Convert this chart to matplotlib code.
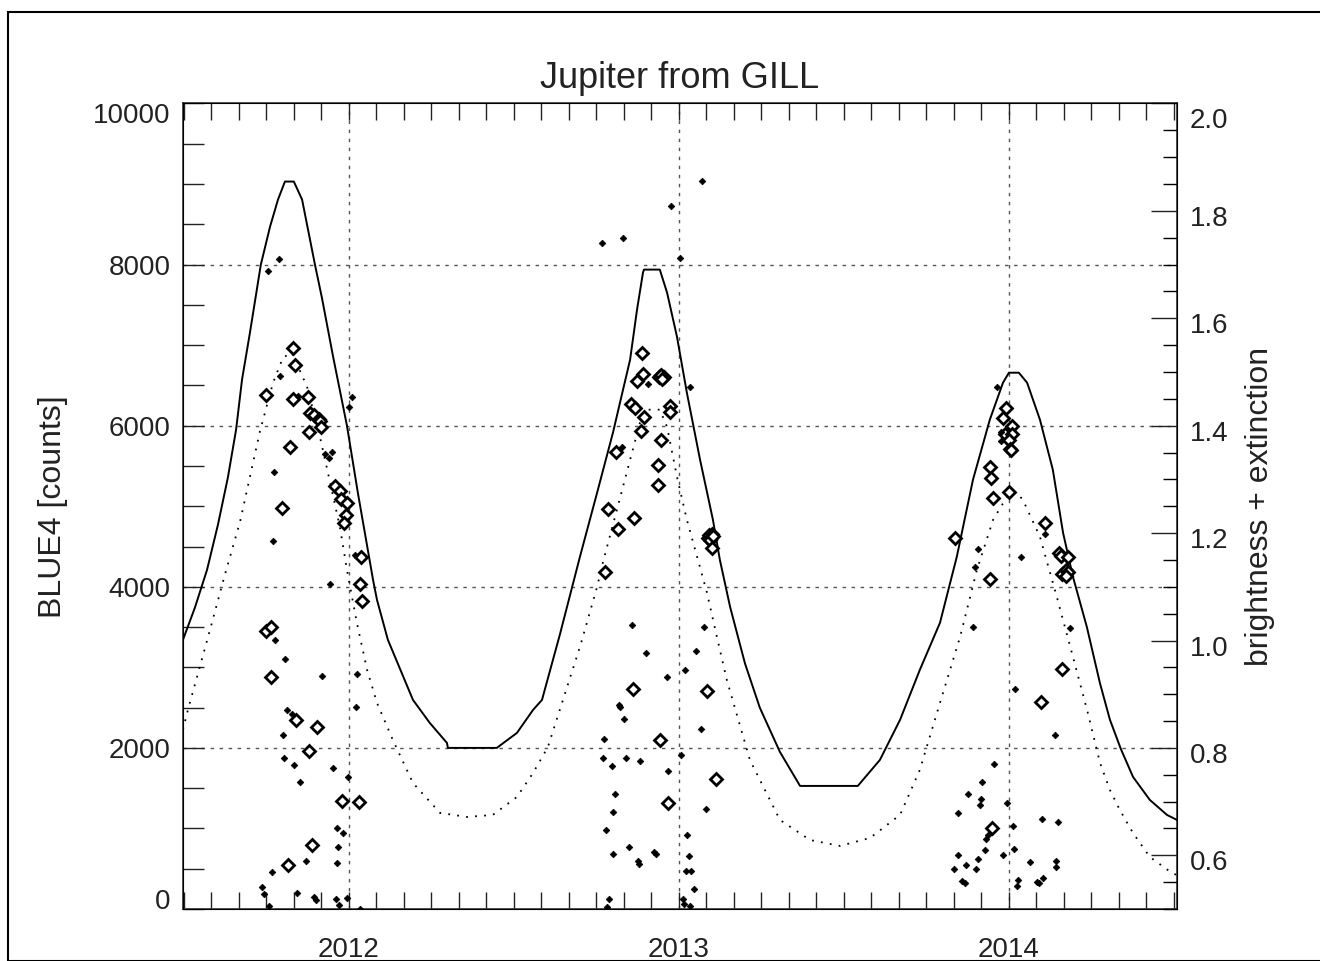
import numpy as np
import matplotlib
matplotlib.use('Agg')
import matplotlib.pyplot as plt
from matplotlib.ticker import MultipleLocator, FixedLocator, FormatStrFormatter
from matplotlib.patches import Rectangle
from matplotlib.transforms import ScaledTranslation

plt.rcParams['font.family'] = ['Liberation Sans', 'DejaVu Sans']

# Model curves (year, counts)
model_year = [2011.497, 2011.533, 2011.570, 2011.603, 2011.633, 2011.658, 2011.676,
              2011.700, 2011.733, 2011.761, 2011.785, 2011.806, 2011.833, 2011.858,
              2011.897, 2011.918, 2011.952, 2011.994, 2012.027, 2012.073, 2012.085,
              2012.118, 2012.194, 2012.245, 2012.297, 2012.300, 2012.448, 2012.509,
              2012.558, 2012.585, 2012.639, 2012.700, 2012.752, 2012.800, 2012.852,
              2012.873, 2012.891, 2012.894, 2012.942, 2012.964, 2012.994, 2013.024,
              2013.064, 2013.103, 2013.124, 2013.155, 2013.200, 2013.245, 2013.306,
              2013.367, 2013.542, 2013.609, 2013.670, 2013.730, 2013.791, 2013.842,
              2013.891, 2013.942, 2013.982, 2014.000, 2014.030, 2014.055, 2014.094,
              2014.133, 2014.164, 2014.194, 2014.236, 2014.276, 2014.306, 2014.339,
              2014.376, 2014.427, 2014.479, 2014.509]
model_counts = [3342, 3739, 4211, 4770, 5354, 5950, 6571,
                7155, 8000, 8472, 8807, 9031, 9031, 8807,
                8000, 7590, 6857, 6000, 5168, 4087, 3838,
                3342, 2596, 2310, 2062, 2000, 2000, 2186,
                2472, 2596, 3404, 4373, 5168, 5913, 6820,
                7441, 7900, 7938, 7938, 7652, 7105, 6410,
                5577, 4832, 4335, 3751, 3050, 2500, 1950,
                1528, 1528, 1851, 2348, 2969, 3553, 4373,
                5329, 6074, 6534, 6658, 6658, 6534, 6074,
                5453, 4671, 4124, 3503, 2800, 2350, 1988,
                1640, 1354, 1168, 1106]

ext_year = [2011.497, 2011.512, 2011.579, 2011.624, 2011.670, 2011.730, 2011.770,
            2011.800, 2011.827, 2011.873, 2011.912, 2011.933, 2011.973, 2011.994,
            2012.024, 2012.055, 2012.085, 2012.133, 2012.194, 2012.276, 2012.358,
            2012.436, 2012.509, 2012.558, 2012.603, 2012.700, 2012.721, 2012.752,
            2012.770, 2012.812, 2012.852, 2012.882, 2012.903, 2012.942, 2012.964,
            2012.994, 2013.024, 2013.055, 2013.085, 2013.115, 2013.145, 2013.215,
            2013.306, 2013.397, 2013.488, 2013.579, 2013.670, 2013.730, 2013.791,
            2013.852, 2013.903, 2013.952, 2013.994, 2014.021, 2014.042, 2014.094,
            2014.145, 2014.194, 2014.239, 2014.276, 2014.306, 2014.336, 2014.376,
            2014.427, 2014.494, 2014.509]
ext_counts = [2224, 2472, 3466, 4149, 4807, 5925, 6534,
              6845, 6907, 6484, 5863, 5478, 4733, 4211,
              3553, 2969, 2559, 2099, 1565, 1193, 1143,
              1168, 1391, 1689, 2012, 3255, 3553, 4000,
              4310, 4956, 5577, 6037, 6199, 6199, 5987,
              5366, 4832, 4373, 3925, 3379, 2845, 1851,
              1106, 857, 783, 882, 1168, 1727, 2559,
              3379, 4211, 4832, 5118, 5180, 5081, 4621,
              3876, 3130, 2435, 1814, 1478, 1230, 944,
              646, 447, 422]

# Observations: open diamonds
diam_year = [2011.831, 2011.838, 2011.750, 2011.830, 2011.876, 2011.882, 2011.894,
             2011.908, 2011.912, 2011.916, 2011.878, 2011.822, 2011.797, 2011.957,
             2011.973, 2011.976, 2011.993, 2011.990, 2011.986, 2012.037, 2012.032,
             2012.041, 2011.748, 2011.763, 2011.765, 2011.840, 2011.902, 2011.880,
             2011.979, 2012.029, 2011.887, 2011.815,
             2012.888, 2012.891, 2012.873, 2012.940, 2012.944, 2012.948, 2012.952,
             2012.955, 2012.946, 2012.950, 2012.855, 2012.868, 2012.972, 2012.974,
             2012.894, 2012.884, 2012.946, 2012.809, 2012.938, 2012.936, 2012.786,
             2012.863, 2012.814, 2013.088, 2013.092, 2013.096, 2013.100, 2013.094,
             2013.104, 2013.099, 2012.776, 2012.861, 2013.085, 2012.943, 2013.113,
             2012.968,
             2013.990, 2013.983, 2014.009, 2013.989, 2014.008, 2013.999, 2014.002,
             2014.006, 2013.944, 2013.946, 2013.952, 2013.999, 2014.108, 2013.837,
             2014.152, 2014.157, 2014.180, 2014.160, 2014.173, 2014.178, 2014.172,
             2013.942, 2014.160, 2014.096, 2013.950]
diam_counts = [6965, 6753, 6376, 6327, 6356, 6158, 6128,
               6083, 6053, 5978, 5917, 5730, 4973, 5255,
               5189, 5093, 5043, 4894, 4786, 4368, 4037,
               3826, 3453, 3503, 2878, 2344, 2256, 1963,
               1338, 1325, 799, 547,
               6902, 6642, 6550, 6600, 6620, 6590, 6610,
               6600, 6630, 6575, 6269, 6222, 6248, 6174,
               6103, 5929, 5826, 5677, 5511, 5263, 4969,
               4848, 4716, 4600, 4640, 4610, 4650, 4580,
               4630, 4480, 4189, 2728, 2703, 2095, 1618,
               1312,
               6220, 6095, 6000, 5900, 5896, 5822, 5714,
               5698, 5491, 5346, 5102, 5171, 4791, 4612,
               4422, 4385, 4368, 4161, 4211, 4182, 4132,
               4102, 2978, 2567, 1009]

# Observations: small dots
dot_year = [2011.788, 2011.754, 2011.791, 2011.846, 2012.008, 2012.001, 2011.927,
            2011.948, 2011.940, 2011.773, 2011.770, 2012.018, 2011.942, 2011.776,
            2011.806, 2011.917, 2012.023, 2012.021, 2011.811, 2011.827, 2011.800,
            2011.803, 2011.834, 2011.952, 2011.852, 2011.997, 2011.965, 2011.982,
            2011.967, 2011.871, 2011.963, 2011.768, 2011.738, 2011.744, 2011.843,
            2011.895, 2011.899, 2011.960, 2011.970, 2011.995, 2011.757, 2012.035,
            2013.069, 2012.976, 2012.766, 2012.831, 2013.002, 2012.905, 2013.032,
            2012.828, 2012.858, 2013.077, 2012.899, 2013.052, 2013.019, 2012.963,
            2012.818, 2012.820, 2012.835, 2013.066, 2012.773, 2013.005, 2012.769,
            2012.796, 2012.841, 2012.883, 2012.966, 2012.807, 2013.082, 2012.799,
            2012.779, 2013.025, 2012.849, 2012.801, 2012.924, 2012.929, 2013.030,
            2012.877, 2012.879, 2013.022, 2013.038, 2013.045, 2012.788, 2012.782,
            2013.012, 2013.016, 2013.035,
            2013.963, 2014.110, 2013.905, 2014.038, 2013.896, 2013.891, 2014.185,
            2014.018, 2014.139, 2013.955, 2013.918, 2013.876, 2013.915, 2013.911,
            2013.994, 2013.847, 2014.099, 2014.149, 2014.012, 2013.938, 2013.930,
            2013.928, 2014.014, 2013.845, 2013.983, 2013.905, 2013.869, 2013.832,
            2013.899, 2014.064, 2014.142, 2014.144, 2013.858, 2013.868, 2014.026,
            2014.023, 2014.086, 2014.090, 2014.104, 2013.976, 2013.976]
dot_counts = [8075, 7917, 6612, 6373, 6360, 6232, 5648,
              5672, 5605, 5425, 4571, 4394, 4037, 3342,
              3101, 2898, 2923, 2513, 2472, 2426, 2161,
              1880, 1784, 1752, 1578, 1640, 1010, 944,
              774, 596, 566, 463, 277, 186, 203,
              145, 116, 119, 50, 133, 33, 0,
              9043, 8729, 8273, 8331, 8087, 6522, 6484,
              5735, 3523, 3498, 3176, 3209, 2965, 2882,
              2534, 2506, 2360, 2231, 2116, 1917, 1876,
              1776, 1880, 1842, 1718, 1429, 1242, 1209,
              976, 914, 774, 679, 708, 679, 658,
              596, 554, 467, 467, 248, 128, 21,
              128, 62, 37,
              6484, 4658, 4468, 4376, 4248, 3499, 3493,
              2728, 2161, 1797, 1574, 1425, 1369, 1287,
              1319, 1188, 1122, 1083, 1034, 914, 865,
              733, 745, 671, 671, 624, 547, 497,
              497, 584, 596, 517, 344, 318, 357,
              281, 330, 318, 380, 5925, 5814]

year_ticks = [2012, 2013, 2014]
count_ticks = [0, 2000, 4000, 6000, 8000, 10000]
grid_counts = [2000, 4000, 6000, 8000]

fig = plt.figure(figsize=(13.2, 9.61), dpi=100)
ax = fig.add_axes([0.1386, 0.0541, 0.7530, 0.8382])

grid_kw = dict(color='#555555', lw=1.0, ls=(0, (2.5, 4)), zorder=1)
for yr in year_ticks:
    ax.axvline(yr, **grid_kw)
for c in grid_counts:
    ax.axhline(c, **grid_kw)

ax.plot(model_year, model_counts, color='black', lw=1.4, zorder=3)
ax.plot(ext_year, ext_counts, color='black', lw=1.3, ls=(0, (1, 4)), zorder=3)
ax.plot(diam_year, diam_counts, ls='none', marker='D', ms=6, mfc='white',
        mec='black', mew=2.0, zorder=4)
ax.plot(dot_year, dot_counts, ls='none', marker='D', ms=3.4, mfc='black',
        mec='black', mew=0.5, zorder=5)

ax.set_xlim(2011.497, 2014.509)
ax.set_ylim(0, 10000)
ax.xaxis.set_major_locator(FixedLocator(year_ticks))
ax.xaxis.set_minor_locator(MultipleLocator(1.0 / 12))
ax.yaxis.set_major_locator(FixedLocator(count_ticks))
ax.yaxis.set_minor_locator(MultipleLocator(500))
ax.tick_params(axis='x', which='both', direction='in', top=True, bottom=True,
               length=12, width=1.0, labelsize=20, pad=20, colors='#222222')
ax.tick_params(axis='y', which='both', direction='in', length=15, width=1.0,
               labelsize=20, pad=9, colors='#222222')
ax.set_ylabel('BLUE4 [counts]', fontsize=23, color='#222222', labelpad=18)
ax.set_title('Jupiter from GILL', fontsize=26, pad=11, color='#222222')
for s in ax.spines.values():
    s.set_linewidth(1.2)
    s.set_color('#333333')

ax2 = ax.twinx()
ax2.set_ylim(0.5, 2.0)
ax2.yaxis.set_major_locator(FixedLocator([0.6, 0.8, 1.0, 1.2, 1.4, 1.6, 1.8, 2.0]))
ax2.yaxis.set_minor_locator(MultipleLocator(0.05))
ax2.yaxis.set_major_formatter(FormatStrFormatter('%.1f'))
ax2.tick_params(axis='y', which='major', direction='in', length=19, width=1.0,
                labelsize=20, pad=9, colors='#222222')
ax2.tick_params(axis='y', which='minor', direction='in', length=10, width=1.0)
ax2.set_ylabel('brightness + extinction', fontsize=23, color='#222222',
               rotation=90, labelpad=12)

# end labels sit inside the frame, right labels a little low, as in the original
fig.canvas.draw()
ax.yaxis.get_major_ticks()[-1].label1.set_va('top')
ax.yaxis.get_major_ticks()[0].label1.set_va('baseline')
shift = ScaledTranslation(0, -5 / 100, fig.dpi_scale_trans)
for t in ax2.yaxis.get_major_ticks():
    t.label2.set_transform(t.label2.get_transform() + shift)
    if abs(t.get_loc() - 2.0) < 1e-6:
        t.label2.set_va('top')

fig.patches.append(Rectangle((8 / 1320, 0), 1.1, 1 - 12 / 961,
                             transform=fig.transFigure, fill=False,
                             lw=1.5, ec='black'))

fig.savefig('out.png', dpi=100)
